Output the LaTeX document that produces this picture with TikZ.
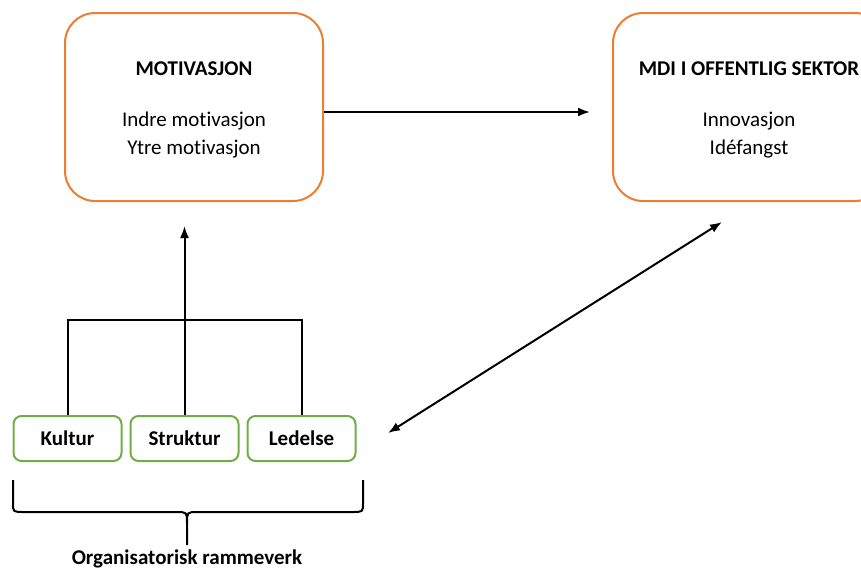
\documentclass[tikz,border=0pt]{standalone}
\usepackage{fontspec}
\setmainfont{Carlito}[Ligatures=NoCommon]
\usetikzlibrary{arrows.meta}

\definecolor{kontororansje}{HTML}{ED7D31}
\definecolor{kontorgronn}{HTML}{70AD47}

\tikzset{
  hovedboks/.style={draw=kontororansje, line width=2pt, rounded corners=30pt,
    minimum height=188pt, align=center},
  faktorboks/.style={draw=kontorgronn, line width=2pt, rounded corners=8pt,
    minimum width=108pt, minimum height=45pt,
    font=\fontsize{21}{28}\selectfont\bfseries},
  pil/.style={line width=2pt, -{Latex[length=12pt,width=9pt]}},
}

\begin{document}
\begin{tikzpicture}[x=1pt,y=-1pt,font=\fontsize{21}{28}\selectfont]
      \useasboundingbox (0,0) rectangle (861,571);
      % the two main boxes
      \node[hovedboks, minimum width=258pt] (motiv) at (194,107)
        {\rule{0pt}{20pt}\textbf{MOTIVASJON}\\[23pt]Indre motivasjon\\Ytre motivasjon};
      \node[hovedboks, minimum width=272pt] (mdi) at (749,107)
        {\rule{0pt}{20pt}\textbf{MDI I OFFENTLIG SEKTOR}\\[23pt]Innovasjon\\Idéfangst};
      % the three factors
      \node[faktorboks] (kultur) at (67.5,438.5) {Kultur};
      \node[faktorboks] (struktur) at (184.5,438.5) {Struktur};
      \node[faktorboks] (ledelse) at (301.5,438.5) {Ledelse};
      \coordinate (mdipil) at (590,112);
      \coordinate (motivpil) at (184.5,226);
      \coordinate (ramme) at (184.5,320);
      \coordinate (ledpil) at (388,433);
      \coordinate (mdined) at (722,222);
      \draw[pil] (motiv.east |- mdipil) -- (mdipil);
      \draw[pil] (struktur.north) -- (motivpil);
      \draw[line width=2pt] (kultur.north) |- (ramme) -| (ledelse.north);
      \draw[line width=2pt, {Latex[length=12pt,width=9pt]}-{Latex[length=12pt,width=9pt]}]
        (ledpil) -- (mdined);
      % brace under the factors
      \draw[line width=2pt] (13,480) -- (13,503) .. controls (13,512) .. (24,512)
        -- (176,512) .. controls (187,512) .. (187,523) -- (187,545);
      \draw[line width=2pt] (187,523) .. controls (187,512) .. (198,512)
        -- (352,512) .. controls (363,512) .. (363,503) -- (363,480);
      \node[font=\fontsize{21}{28}\selectfont\bfseries] (org) at (187,559)
        {Organisatorisk rammeverk};
\end{tikzpicture}
\end{document}
